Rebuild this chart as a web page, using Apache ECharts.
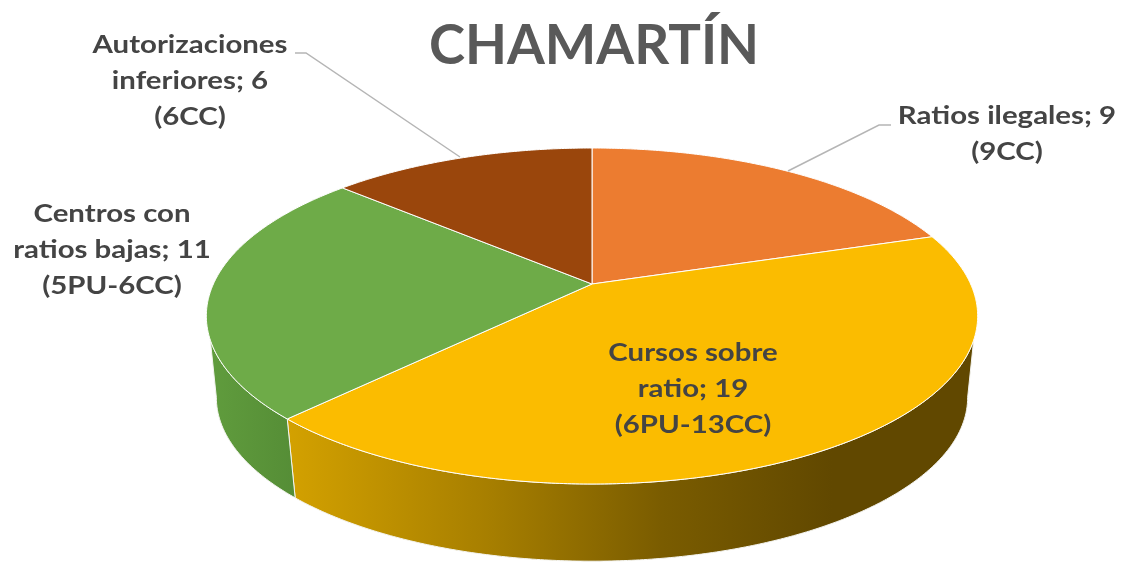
<!DOCTYPE html>
<html>
<head>
<meta charset="utf-8">
<title>CHAMARTÍN</title>
<style>
  html, body { margin: 0; padding: 0; background: #fff; }
  #chart { width: 1121px; height: 562px; }
</style>
<script src="https://cdn.jsdelivr.net/npm/echarts@6/dist/echarts.min.js"></script>
</head>
<body>
<div id="chart"></div>
<script>
const categories = ["Ratios ilegales", "Cursos sobre ratio", "Centros con ratios bajas", "Autorizaciones inferiores"];
const values = [9, 19, 11, 6];
const labels = [
  "Ratios ilegales; 9\n(9CC)",
  "Cursos sobre\nratio; 19\n(6PU-13CC)",
  "Centros con\nratios bajas; 11\n(5PU-6CC)",
  "Autorizaciones\ninferiores; 6\n(6CC)",
];
const colors = ["#ec7c30", "#fbbc00", "#6eab48", "#9a460c"];

// where the labels sit, and their leader lines
const labelAt = [[1007, 134], [693, 389], [112, 250], [190, 81]];
const leaders = [
  [[891, 125], [879, 125], [788, 171]],
  null,
  null,
  [[295, 53], [306, 53], [460, 157]],
];

// tilted disc: unit circle through a perspective, fitted on the reference
const cx = 592, cy = 284, ax = 378.6, ay = 161.9, persp = -0.1905;
const depthY = 366.4, depthScale = 0.974;
const topWall = [109, 251], lowWall = [101, 259];

function project(deg, low) {
  const r = deg * Math.PI / 180;
  const u = Math.sin(r), v = -Math.cos(r), w = 1 + persp * v;
  const x = ax * u / w, y = ay * v / w;
  return low ? [cx + depthScale * x, depthY + depthScale * y] : [cx + x, cy + y];
}

function arc(from, to, low) {
  const pts = [];
  const n = Math.max(1, Math.ceil(Math.abs(to - from) * 2));
  for (let i = 0; i <= n; i++) pts.push(project(from + (to - from) * i / n, low));
  return pts;
}

const total = values.reduce((a, b) => a + b, 0);
const wallFill = [
  null,
  new echarts.graphic.LinearGradient(288, 0, 968, 0, [
    { offset: 0, color: "#d3a100" },
    { offset: 0.3, color: "#a67e00" },
    { offset: 0.55, color: "#7a5c00" },
    { offset: 0.8, color: "#614800" },
    { offset: 1, color: "#614800" },
  ], true),
  new echarts.graphic.LinearGradient(210, 0, 296, 0, [
    { offset: 0, color: "#609c3d" },
    { offset: 1, color: "#558d36" },
  ], true),
  null,
];

function renderSlice(params, api) {
  const i = params.dataIndex;
  const before = values.slice(0, i).reduce((a, b) => a + b, 0);
  const start = before / total * 360;
  const end = start + api.value(0) / total * 360;
  const children = [];

  const a = Math.max(start, topWall[0]), b = Math.min(end, topWall[1]);
  const c = Math.max(start, lowWall[0]), d = Math.min(end, lowWall[1]);
  if (a < b) {
    children.push({
      type: "polygon",
      shape: { points: arc(a, b, false).concat(arc(d, c, true)) },
      style: { fill: wallFill[i], stroke: "#f4f4f0", lineWidth: 1 },
    });
  }
  children.push({
    type: "polygon",
    shape: { points: [[cx, cy]].concat(arc(start, end, false)) },
    style: { fill: colors[i], stroke: "#fff", lineWidth: 1 },
  });
  if (leaders[i]) {
    children.push({
      type: "polyline",
      shape: { points: leaders[i] },
      style: { fill: null, stroke: "#b5b5b5", lineWidth: 1.5 },
    });
  }
  // the reference text is stretched sideways, so widen it the same way
  children.push({
    type: "text",
    x: labelAt[i][0],
    y: labelAt[i][1],
    scaleX: 1.225,
    style: {
      text: labels[i],
      font: "bold 24px Lato",
      fill: "#444444",
      align: "center",
      verticalAlign: "middle",
      lineHeight: 36,
    },
  });
  return { type: "group", children };
}

const chart = echarts.init(document.getElementById("chart"), null, { renderer: "canvas" });
chart.setOption({
  animation: false,
  backgroundColor: "#ffffff",
  title: {
    text: "CHAMARTÍN",
    left: 589,
    top: 14,
    textAlign: "center",
    textStyle: { fontFamily: "Lato", fontWeight: "bold", fontSize: 54.5, color: "#595959" },
  },
  series: [{
    type: "custom",
    coordinateSystem: "none",
    renderItem: renderSlice,
    data: values.map((v, i) => ({ name: categories[i], value: [v] })),
  }],
});
</script>
</body>
</html>
